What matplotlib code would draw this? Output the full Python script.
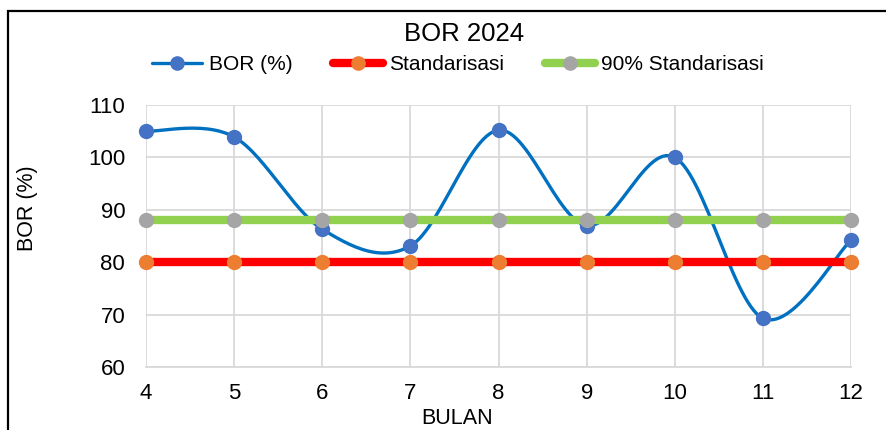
import numpy as np
import matplotlib
matplotlib.use("Agg")
import matplotlib.pyplot as plt
from matplotlib.patches import Rectangle

plt.rcParams["font.family"] = ["Liberation Sans", "DejaVu Sans"]

bulan = [4, 5, 6, 7, 8, 9, 10, 11, 12]
bor = [105.0, 103.9, 86.3, 83.1, 105.2, 87.0, 100.0, 69.3, 84.2]
standar = [80, 80, 80, 80, 80, 80, 80, 80, 80]
standar_90 = [88, 88, 88, 88, 88, 88, 88, 88, 88]


def smooth(xs, ys, steps=30):
    # Excel-style smoothed line: cubic Bezier with Catmull-Rom control points
    xs = np.asarray(xs, float)
    ys = np.asarray(ys, float)
    n = len(xs)
    out_x, out_y = [], []
    t = np.linspace(0, 1, steps)
    for i in range(n - 1):
        p0 = np.array([xs[max(i - 1, 0)], ys[max(i - 1, 0)]])
        p1 = np.array([xs[i], ys[i]])
        p2 = np.array([xs[i + 1], ys[i + 1]])
        p3 = np.array([xs[min(i + 2, n - 1)], ys[min(i + 2, n - 1)]])
        c1 = p1 + (p2 - p0) / 6
        c2 = p2 - (p3 - p1) / 6
        pts = ((1 - t) ** 3)[:, None] * p1 + (3 * (1 - t) ** 2 * t)[:, None] * c1 \
            + (3 * (1 - t) * t ** 2)[:, None] * c2 + (t ** 3)[:, None] * p2
        out_x.extend(pts[:, 0])
        out_y.extend(pts[:, 1])
    return out_x, out_y


fig = plt.figure(figsize=(8.86, 4.3), dpi=100)
ax = fig.add_axes([146 / 886, 1 - 367 / 430, (851 - 146) / 886, (367 - 105) / 430])

sx, sy = smooth(bulan, bor)
ax.plot(sx, sy, color="#0070C0", lw=2.4, zorder=3, clip_on=False, solid_capstyle="round")
ax.plot(bulan, bor, ls="none", marker="o", ms=10, color="#4472C4", zorder=3, clip_on=False)
ax.plot(bulan, standar, color="#FF0000", lw=6, marker="o", ms=10,
        mfc="#ED7D31", mec="#ED7D31", zorder=4, clip_on=False)
ax.plot(bulan, standar_90, color="#92D050", lw=6, marker="o", ms=10,
        mfc="#A5A5A5", mec="#A5A5A5", zorder=5, clip_on=False)

# legend proxies
h1, = ax.plot([], [], color="#0070C0", lw=2.4, marker="o", ms=9.5, mfc="#4472C4", mec="#4472C4",
              solid_capstyle="round")
h2, = ax.plot([], [], color="#FF0000", lw=6, marker="o", ms=9.5, mfc="#ED7D31", mec="#ED7D31",
              solid_capstyle="round")
h3, = ax.plot([], [], color="#92D050", lw=6, marker="o", ms=9.5, mfc="#A5A5A5", mec="#A5A5A5",
              solid_capstyle="round")
fig.legend([h1, h2, h3], ["BOR (%)", "Standarisasi", "90% Standarisasi"],
           loc="center", bbox_to_anchor=(458 / 886, 1 - 65 / 430), ncol=3, frameon=False,
           fontsize=15, handlelength=2.4, handletextpad=0.3, columnspacing=1.95,
           borderpad=0, borderaxespad=0)

ax.set_xlim(4, 12)
ax.set_ylim(60, 110)
ax.set_xticks(bulan)
ax.set_yticks([60, 70, 80, 90, 100, 110])
ax.grid(True, color="#D9D9D9", lw=1.3)
ax.set_axisbelow(True)
for s in ["top", "right", "left"]:
    ax.spines[s].set_visible(False)
ax.spines["bottom"].set_color("#D9D9D9")
ax.spines["bottom"].set_linewidth(1.3)
ax.tick_params(length=0, labelsize=16)
ax.tick_params(axis="y", pad=15)
ax.tick_params(axis="x", pad=11.5)

fig.text(464 / 886, 1 - 34 / 430, "BOR 2024", ha="center", va="center", fontsize=18.5)
fig.text(457 / 886, 1 - 418 / 430, "BULAN", ha="center", va="center", fontsize=15.5)
fig.text(27.5 / 886, 1 - 208 / 430, "BOR (%)", ha="center", va="center", fontsize=15.5, rotation=90)

fig.patches.append(Rectangle((8 / 886, -0.1), 1.2, 1.1 - 11 / 430, transform=fig.transFigure,
                             fill=False, edgecolor="black", lw=1.6, zorder=0))

fig.savefig("out.png", dpi=100)
